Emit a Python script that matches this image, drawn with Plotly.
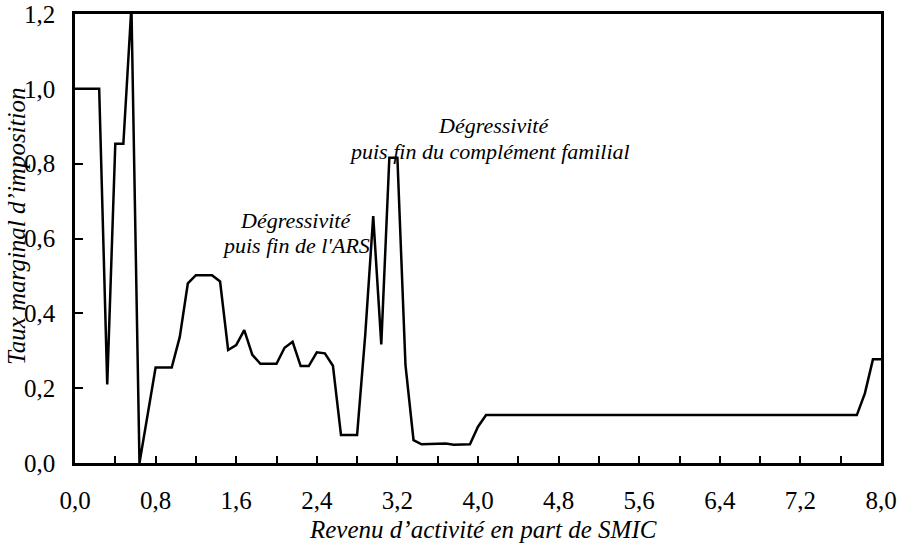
import plotly.graph_objects as go

revenu = [0.0, 0.24, 0.32, 0.40, 0.48, 0.56, 0.64, 0.80, 0.96, 1.04, 1.12, 1.20, 1.36, 1.44,
          1.52, 1.60, 1.68, 1.76, 1.84, 2.00, 2.08, 2.16, 2.24, 2.32, 2.40, 2.48, 2.56, 2.64,
          2.80, 2.88, 2.96, 3.04, 3.12, 3.20, 3.28, 3.36, 3.44, 3.52, 3.60, 3.68, 3.76, 3.84,
          3.92, 4.00, 4.08, 7.76, 7.84, 7.92, 8.00]
taux = [1.0, 1.0, 0.21, 0.853, 0.853, 1.22, 0.0, 0.255, 0.255, 0.337, 0.48, 0.502, 0.502, 0.485,
        0.302, 0.315, 0.355, 0.289, 0.265, 0.265, 0.308, 0.324, 0.259, 0.259, 0.296, 0.293, 0.26, 0.075,
        0.075, 0.34, 0.66, 0.317, 0.816, 0.816, 0.262, 0.061, 0.05, 0.05, 0.05, 0.052, 0.049, 0.05,
        0.05, 0.097, 0.128, 0.128, 0.186, 0.277, 0.277]

x_ticks = [0.0, 0.8, 1.6, 2.4, 3.2, 4.0, 4.8, 5.6, 6.4, 7.2, 8.0]
x_labels = ["0,0", "0,8", "1,6", "2,4", "3,2", "4,0", "4,8", "5,6", "6,4", "7,2", "8,0"]
y_ticks = [0.0, 0.2, 0.4, 0.6, 0.8, 1.0, 1.2]
y_labels = ["0,0", "0,2", "0,4", "0,6", "0,8", "1,0", "1,2"]

FONT = "Times New Roman, Liberation Serif, DejaVu Serif, serif"

fig = go.Figure()
fig.add_trace(go.Scatter(x=revenu, y=taux, mode="lines",
                         line=dict(color="black", width=2.5), showlegend=False,
                         cliponaxis=True))

fig.update_layout(
    width=906, height=548,
    margin=dict(l=75, r=25, t=14, b=85, autoexpand=False),
    plot_bgcolor="white", paper_bgcolor="white",
    font=dict(family=FONT, size=25, color="black"),
)
fig.update_xaxes(range=[0, 8], tickvals=x_ticks, ticktext=x_labels, automargin=False,
                 ticks="inside", ticklen=7, tickwidth=2, tickcolor="black",
                 minor=dict(dtick=0.4, tick0=0, ticks="inside", ticklen=7, tickwidth=2, tickcolor="black"),
                 showline=True, linecolor="black", linewidth=2.5, mirror=True,
                 showgrid=False, zeroline=False, ticklabelstandoff=13,
                 tickfont=dict(family=FONT, size=25))
fig.update_yaxes(range=[0, 1.2], tickvals=y_ticks, ticktext=y_labels, automargin=False,
                 ticks="inside", ticklen=8, tickwidth=2, tickcolor="black",
                 showline=True, linecolor="black", linewidth=2.5, mirror=True,
                 showgrid=False, zeroline=False, ticklabelstandoff=12,
                 tickfont=dict(family=FONT, size=25))

ann_font = dict(family=FONT, size=22, color="black", style="italic")
for txt, xv, yv in [("Dégressivité", 2.19, 0.649), ("puis fin de l'ARS", 2.19, 0.582),
                    ("Dégressivité", 4.15, 0.903), ("puis fin du complément familial", 4.11, 0.833)]:
    fig.add_annotation(text=txt, x=xv, y=yv, xref="x", yref="y", xanchor="center",
                       yanchor="middle", showarrow=False, font=ann_font)

fig.add_annotation(text="Revenu d’activité en part de SMIC", x=0.506, y=-0.149,
                   xref="paper", yref="paper", xanchor="center", yanchor="middle",
                   showarrow=False,
                   font=dict(family=FONT, size=25, color="black", style="italic"))
fig.add_annotation(text="Taux marginal d’imposition", x=-0.072, y=0.528,
                   xref="paper", yref="paper", xanchor="center", yanchor="middle",
                   showarrow=False, textangle=-90,
                   font=dict(family=FONT, size=25, color="black", style="italic"))

fig.write_html("out.html", config={"displayModeBar": False},
               post_script="document.body.style.margin='0';")
